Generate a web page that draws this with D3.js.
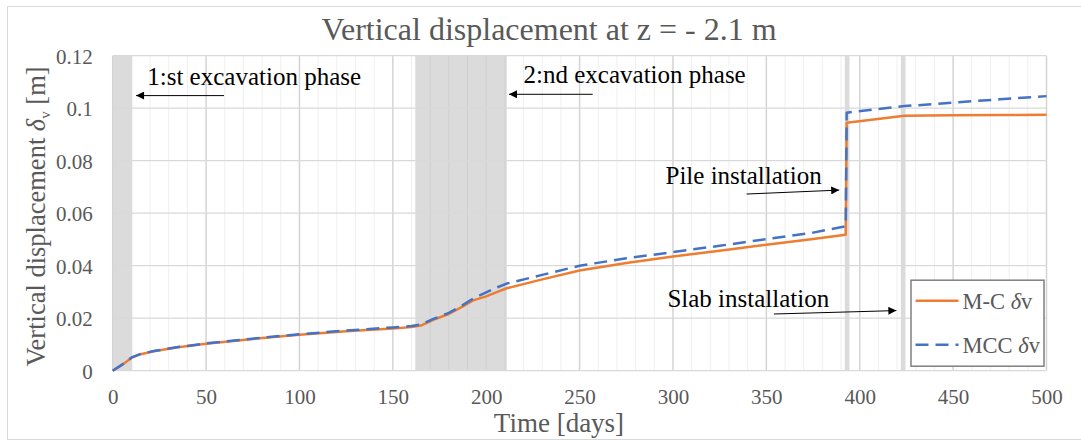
<!DOCTYPE html>
<html><head><meta charset="utf-8">
<script src="https://cdn.jsdelivr.net/npm/d3@7"></script>
<style>
html,body{margin:0;padding:0;background:#fff;}
svg text{font-family:"Liberation Serif","Times New Roman",serif !important;}
</style></head>
<body>
<svg id="chart" width="1081" height="441"></svg>
<script>
// ---- data ----
const days      = [0, 5, 10.5, 15, 22, 35, 50, 75, 100, 125, 150, 160, 165, 172, 180, 187, 193, 200, 206, 211, 230, 250, 275, 300, 325, 350, 375, 392.5, 393, 424, 450, 475, 500];
const mcValues  = [0, 0.0022, 0.0051, 0.0063, 0.0074, 0.0089, 0.0103, 0.0121, 0.0137, 0.0150, 0.0161, 0.0166, 0.0172, 0.0195, 0.0216, 0.0243, 0.0268, 0.0283, 0.0300, 0.0314, 0.0348, 0.0382, 0.0410, 0.0435, 0.0457, 0.0480, 0.0502, 0.0518, 0.0945, 0.0971, 0.0973, 0.0974, 0.0975];
const mccValues = [0, 0.0023, 0.0052, 0.0064, 0.0075, 0.0090, 0.0104, 0.0122, 0.0139, 0.0153, 0.0165, 0.0170, 0.0176, 0.0198, 0.0220, 0.0248, 0.0275, 0.0298, 0.0318, 0.0332, 0.0365, 0.0400, 0.0428, 0.0452, 0.0476, 0.0501, 0.0526, 0.0550, 0.0983, 0.1008, 0.1021, 0.1034, 0.1046];
const seriesNames = ["M-C δv", "MCC δv"];
const xTickValues = [0, 50, 100, 150, 200, 250, 300, 350, 400, 450, 500];
const yTickValues = [0, 0.02, 0.04, 0.06, 0.08, 0.1, 0.12];
const yTickLabels = ["0", "0.02", "0.04", "0.06", "0.08", "0.1", "0.12"];
const phaseStart = [0, 162, 392, 422];
const phaseEnd   = [10.5, 211, 394.5, 424.5];
const annotationText = ["1:st excavation phase", "2:nd excavation phase", "Pile installation", "Slab installation"];
const annTextDay = [18.5, 220, 296, 297];
const annTextVal = [0.1088, 0.1096, 0.0711, 0.0243];
const arrowFromDay = [59.6, 257, 339.4, 354];
const arrowFromVal = [0.1048, 0.1053, 0.0673, 0.0216];
const arrowToDay   = [12.5, 212.2, 389, 419.6];
const arrowToVal   = [0.1048, 0.1053, 0.0688, 0.0229];

// ---- layout ----
const FONT = "'Liberation Serif','Times New Roman',serif";
const svg = d3.select("#chart").style("font-family", FONT);
const L = 112.7, R = 1046.5, T = 55.7, B = 370.7;
const x = d3.scaleLinear().domain([0, 500]).range([L, R]);
const y = d3.scaleLinear().domain([0, 0.12]).range([B, T]);

// outer frame
svg.append("rect").attr("x", 7.5).attr("y", 6.5).attr("width", 1090).attr("height", 433)
  .attr("fill", "#fff").attr("stroke", "#d9d9d9").attr("stroke-width", 1);

const defs = svg.append("defs");
defs.append("marker").attr("id", "arr").attr("viewBox", "0 0 10 10")
  .attr("refX", 10).attr("refY", 5).attr("markerWidth", 9).attr("markerHeight", 8)
  .attr("markerUnits", "userSpaceOnUse").attr("orient", "auto")
  .append("path").attr("d", "M0,0 L10,5 L0,10 Z").attr("fill", "#000");

// minor vertical gridlines
const minor = d3.range(0, 501, 10).filter(d => d % 50 !== 0);
svg.append("g").selectAll("line").data(minor).join("line")
  .attr("x1", d => x(d)).attr("x2", d => x(d)).attr("y1", T).attr("y2", B)
  .attr("stroke", "#efefef").attr("stroke-width", 1);

// shaded phases
svg.append("g").selectAll("rect").data(phaseStart).join("rect")
  .attr("x", (d, i) => x(d)).attr("width", (d, i) => x(phaseEnd[i]) - x(d))
  .attr("y", T).attr("height", B - T).attr("fill", "#d9d9d9").attr("opacity", 0.95);

// minor lines over shade (slightly visible)
svg.append("g").selectAll("line").data(minor.filter(d => (d > 162 && d < 211))).join("line")
  .attr("x1", d => x(d)).attr("x2", d => x(d)).attr("y1", T).attr("y2", B)
  .attr("stroke", "#cfcfcf").attr("stroke-width", 1);

// major vertical gridlines
svg.append("g").selectAll("line").data(xTickValues).join("line")
  .attr("x1", d => x(d)).attr("x2", d => x(d)).attr("y1", T).attr("y2", B)
  .attr("stroke", "#d4d4d4").attr("stroke-width", 1.5);

// horizontal gridlines
svg.append("g").selectAll("line").data(yTickValues).join("line")
  .attr("x1", L).attr("x2", R).attr("y1", d => y(d)).attr("y2", d => y(d))
  .attr("stroke", "#d9d9d9").attr("stroke-width", 1.2);

// axes (labels only)
const xAxis = d3.axisBottom(x).tickValues(xTickValues).tickSize(0).tickPadding(0).tickFormat(d3.format("d"));
const gx = svg.append("g").attr("transform", `translate(0,${B + 33})`).call(xAxis)
  .attr("font-family", FONT).attr("font-size", 21);
gx.select(".domain").remove();
gx.selectAll("text").attr("fill", "#595959").attr("dy", 0).style("font-family", FONT);

const yAxis = d3.axisLeft(y).tickValues(yTickValues).tickSize(0).tickPadding(0)
  .tickFormat((d, i) => yTickLabels[i]);
const gy = svg.append("g").attr("transform", `translate(${L - 20},0)`).call(yAxis)
  .attr("font-family", FONT).attr("font-size", 21);
gy.select(".domain").remove();
gy.selectAll("text").attr("fill", "#595959").attr("dy", "0.35em").style("font-family", FONT);

// series lines
const line = vals => d3.line().x((d, i) => x(d)).y((d, i) => y(vals[i]))(days);
svg.append("path").attr("d", line(mcValues)).attr("fill", "none")
  .attr("stroke", "#ed7d31").attr("stroke-width", 2.5).attr("stroke-linejoin", "round");
svg.append("path").attr("d", line(mccValues)).attr("fill", "none")
  .attr("stroke", "#4472c4").attr("stroke-width", 2.5).attr("stroke-dasharray", "13,7")
  .attr("stroke-linejoin", "round");

// annotations
const ann = svg.append("g");
annotationText.forEach((t, i) => {
  ann.append("text").attr("x", x(annTextDay[i])).attr("y", y(annTextVal[i]))
    .attr("font-size", 25).attr("fill", "#000").style("font-family", FONT).text(t);
  ann.append("line")
    .attr("x1", x(arrowFromDay[i])).attr("y1", y(arrowFromVal[i]))
    .attr("x2", x(arrowToDay[i])).attr("y2", y(arrowToVal[i]))
    .attr("stroke", "#000").attr("stroke-width", 1).attr("marker-end", "url(#arr)");
});

// title
svg.append("text").attr("x", 549).attr("y", 40).attr("text-anchor", "middle")
  .attr("font-size", 32).attr("fill", "#595959").style("font-family", FONT)
  .text("Vertical displacement at z = - 2.1 m");

// x title
svg.append("text").attr("x", 559).attr("y", 432).attr("text-anchor", "middle")
  .attr("font-size", 27).attr("fill", "#595959").style("font-family", FONT).text("Time [days]");

// y title
const yt = svg.append("text").attr("transform", `translate(45,${(53 + 380) / 2}) rotate(-90)`)
  .attr("text-anchor", "middle").attr("font-size", 26.5).attr("fill", "#595959").style("font-family", FONT);
yt.append("tspan").text("Vertical displacement ");
yt.append("tspan").attr("font-style", "italic").text("δ");
yt.append("tspan").attr("font-size", 15).attr("dy", 5).text("v");
yt.append("tspan").attr("dy", -5).text(" [m]");

// legend
const lg = svg.append("g").attr("transform", `translate(${R - 136},${B - 91})`);
lg.append("rect").attr("x", 0.5).attr("y", 0.5).attr("width", 133).attr("height", 86)
  .attr("fill", "#fff").attr("stroke", "#7f7f7f").attr("stroke-width", 1.5);
const lgColors = ["#ed7d31", "#4472c4"];
const lgDash = [null, "13,7"];
seriesNames.forEach((n, i) => {
  const yy = 21 + i * 44;
  lg.append("line").attr("x1", 5).attr("x2", 48).attr("y1", yy).attr("y2", yy)
    .attr("stroke", lgColors[i]).attr("stroke-width", 2.5).attr("stroke-dasharray", lgDash[i]);
  const tx = lg.append("text").attr("x", 52).attr("y", yy + 8).attr("font-size", 22.5)
    .attr("fill", "#595959").style("font-family", FONT);
  const parts = n.split("δ");
  tx.append("tspan").text(parts[0]);
  tx.append("tspan").attr("font-style", "italic").text("δ");
  tx.append("tspan").text(parts[1]);
});
</script>
</body></html>
